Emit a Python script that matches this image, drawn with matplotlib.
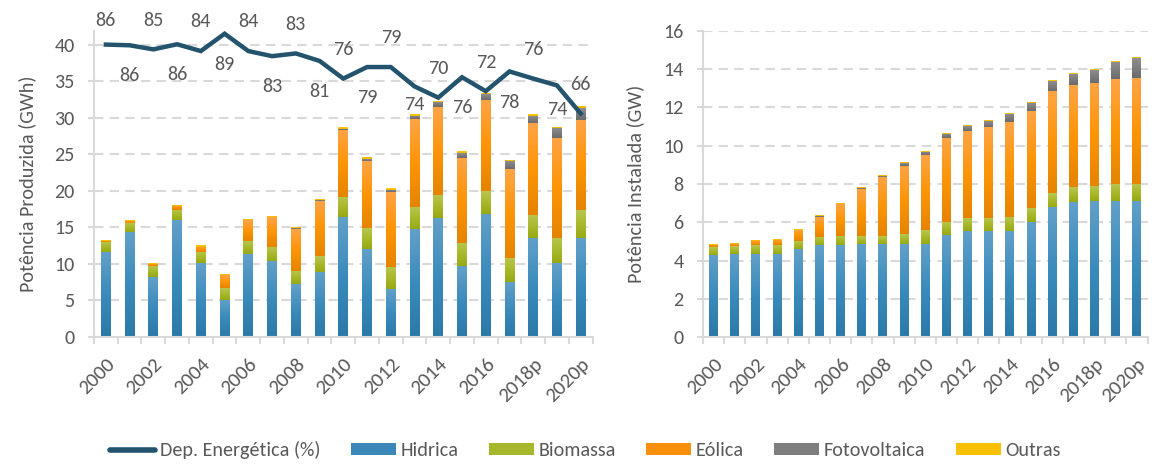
import numpy as np
import matplotlib
matplotlib.use("Agg")
import matplotlib.pyplot as plt
from matplotlib import font_manager
from matplotlib.colors import LinearSegmentedColormap
from matplotlib.lines import Line2D
from matplotlib.patches import Patch

_available = {f.name for f in font_manager.fontManager.ttflist}
if 'Carlito' in _available:
    FONT, FS, FS_X = 'Carlito', 14.5, 15
else:
    FONT, FS, FS_X = 'Lato', 12.5, 13
plt.rcParams['font.family'] = [FONT, 'DejaVu Sans']

# ---------------- data ----------------
years = ['2000', '2001', '2002', '2003', '2004', '2005', '2006', '2007', '2008', '2009',
         '2010', '2011', '2012', '2013', '2014', '2015', '2016', '2017', '2018p', '2019p', '2020p']

dep_energetica = [86.0, 85.8, 84.6, 86.1, 84.1, 89.2, 84.1, 82.6, 83.4, 81.2,
                  76.0, 79.4, 79.4, 73.7, 70.4, 76.4, 72.3, 78.1, 76.0, 74.0, 65.7]

# Produced energy (GWh)
prod_hidrica = [11.6, 14.4, 8.2, 16.0, 10.1, 5.1, 11.35, 10.35, 7.25, 8.9,
                16.35, 12.05, 6.55, 14.75, 16.3, 9.7, 16.85, 7.5, 13.55, 10.1, 13.55]
prod_biomassa = [1.37, 1.24, 1.51, 1.37, 1.55, 1.64, 1.78, 1.96, 1.78, 2.18,
                 2.78, 2.87, 3.01, 3.01, 3.15, 3.15, 3.10, 3.29, 3.15, 3.42, 3.79]
prod_eolica = [0.18, 0.22, 0.28, 0.55, 0.73, 1.74, 2.87, 4.06, 5.74, 7.57,
               9.21, 9.12, 10.26, 12.0, 12.03, 11.63, 12.49, 12.17, 12.58, 13.72, 12.36]
prod_fotovoltaica = [0, 0, 0, 0, 0, 0, 0, 0, 0.13, 0.09,
                     0.14, 0.27, 0.31, 0.54, 0.69, 0.64, 0.82, 1.05, 1.01, 1.37, 1.59]
prod_outras = [0.09, 0.14, 0.09, 0.14, 0.18, 0.13, 0.14, 0.13, 0.10, 0.09,
               0.18, 0.28, 0.19, 0.18, 0.13, 0.27, 0.14, 0.14, 0.18, 0.14, 0.28]

# Installed capacity (GW)
inst_hidrica = [4.30, 4.37, 4.37, 4.37, 4.61, 4.82, 4.82, 4.89, 4.89, 4.89,
                4.89, 5.34, 5.55, 5.55, 5.55, 6.03, 6.82, 7.08, 7.11, 7.11, 7.11]
inst_biomassa = [0.41, 0.41, 0.46, 0.46, 0.43, 0.43, 0.48, 0.41, 0.41, 0.52,
                 0.73, 0.69, 0.69, 0.69, 0.75, 0.74, 0.73, 0.78, 0.80, 0.91, 0.91]
inst_eolica = [0.11, 0.11, 0.21, 0.27, 0.58, 1.01, 1.67, 2.44, 3.08, 3.55,
               3.91, 4.39, 4.54, 4.75, 4.95, 5.06, 5.32, 5.32, 5.38, 5.48, 5.53]
inst_fotovoltaica = [0, 0, 0, 0, 0, 0.07, 0, 0.07, 0.05, 0.14,
                     0.16, 0.21, 0.26, 0.31, 0.42, 0.41, 0.52, 0.58, 0.68, 0.88, 1.04]
inst_outras = [0.05, 0.03, 0.06, 0.05, 0.05, 0.05, 0.06, 0.05, 0.06, 0.07,
               0.05, 0.05, 0.06, 0.06, 0.05, 0.06, 0.05, 0.05, 0.05, 0.05, 0.05]

series_names = ['Hidrica', 'Biomassa', 'Eólica', 'Fotovoltaica', 'Outras']
line_name = 'Dep. Energética (%)'
ylabel_left = 'Potência Produzida (GWh)'
ylabel_right = 'Potência Instalada (GW)'

# ---------------- style ----------------
grad_colors = {  # bottom -> top
    'Hidrica': ['#2b79a8', '#3a8bbb', '#62a0c9'],
    'Biomassa': ['#97a912', '#a8b92c', '#b8c651'],
    'Eólica': ['#e68400', '#fd9506', '#ffa446'],
    'Fotovoltaica': ['#6b6b6b', '#7d7d7d', '#8f8f8f'],
    'Outras': ['#efb300', '#fbbf00', '#ffcb1f'],
}
solid_colors = {'Hidrica': '#3a87b8', 'Biomassa': '#a6b72c', 'Eólica': '#f98f0a',
                'Fotovoltaica': '#7e7e7e', 'Outras': '#f8c000'}
line_color = '#23536d'
text_color = '#595959'
grid_color = '#d9d9d9'
BAR_W = 0.42

W, H = 1171, 467
fig = plt.figure(figsize=(W / 100, H / 100), dpi=100)
ax1 = fig.add_axes([94 / W, 1 - 337 / H, (592.6 - 94) / W, (337 - 31) / H])
ax3 = fig.add_axes([703 / W, 1 - 337.3 / H, (1147.5 - 703) / W, (337.3 - 30.7) / H])

x = np.arange(len(years))


def grad_bars(ax, stacks):
    bottom = np.zeros(len(x))
    for name, vals in zip(series_names, stacks):
        vals = np.asarray(vals, dtype=float)
        bars = ax.bar(x, vals, BAR_W, bottom=bottom, color=solid_colors[name],
                      linewidth=0, zorder=2)
        cmap = LinearSegmentedColormap.from_list(name, grad_colors[name])
        g = np.linspace(1, 0, 64).reshape(-1, 1)
        for rect, v in zip(bars, vals):
            if v <= 0:
                continue
            x0, y0 = rect.get_x(), rect.get_y()
            im = ax.imshow(g, extent=(x0, x0 + rect.get_width(), y0, y0 + rect.get_height()),
                           aspect='auto', cmap=cmap, vmin=0, vmax=1,
                           interpolation='bilinear', zorder=2.1)
            im.set_clip_path(rect)
        bottom += vals


def style_axes(ax, ymax, ystep):
    ax.set_xlim(-0.5, len(x) - 0.5)
    ax.set_ylim(0, ymax)
    ax.set_yticks(np.arange(0, ymax + 0.001, ystep))
    for yv in np.arange(ystep, ymax + 0.001, ystep):
        ax.axhline(yv, color=grid_color, lw=1.5, ls=(0, (4.5, 3)), zorder=1)
    for s in ['top', 'right']:
        ax.spines[s].set_visible(False)
    for s in ['left', 'bottom']:
        ax.spines[s].set_color(grid_color)
        ax.spines[s].set_linewidth(1.5)
    ax.tick_params(axis='y', colors=grid_color, labelcolor=text_color, labelsize=FS,
                   length=4, width=1.5, pad=10)
    ax.set_xticks(x[::2])
    ax.set_xticklabels(years[::2], rotation=45, ha='right', va='top',
                       rotation_mode='anchor', fontsize=FS_X, color=text_color)
    ax.tick_params(axis='x', which='major', length=0, pad=13)
    ax.set_xticks(np.arange(-0.5, len(x), 1), minor=True)
    ax.tick_params(axis='x', which='minor', length=5, width=1.5, color=grid_color)
    ax.set_facecolor('none')


# ---- left chart ----
grad_bars(ax1, [prod_hidrica, prod_biomassa, prod_eolica, prod_fotovoltaica, prod_outras])
style_axes(ax1, 41.86, 5)
ax1.set_yticks(np.arange(0, 41, 5))
ax1.set_ylabel(ylabel_left, fontsize=FS, color=text_color, labelpad=13)

ax2 = ax1.twinx()
ax2.set_ylim(0, 90)
ax2.axis('off')
ax2.plot(x, dep_energetica, color=line_color, lw=3.2, solid_joinstyle='miter', zorder=5)
special_offsets = {0: 17, 13: -13, 19: -17}
for i, v in enumerate(dep_energetica):
    off = 21 if i % 2 == 0 else -22
    off = special_offsets.get(i, off)
    ax2.annotate(f'{v:.0f}', (x[i], v), xytext=(0, off), textcoords='offset points',
                 ha='center', va='center', fontsize=FS, color=text_color,
                 annotation_clip=False)

# ---- right chart ----
grad_bars(ax3, [inst_hidrica, inst_biomassa, inst_eolica, inst_fotovoltaica, inst_outras])
style_axes(ax3, 16, 2)
ax3.set_ylabel(ylabel_right, fontsize=FS, color=text_color, labelpad=14)

# ---- legend ----
handles = [Line2D([0], [0], color=line_color, lw=4, solid_capstyle='round')]
handles += [Patch(facecolor=solid_colors[n], edgecolor='none') for n in series_names]
labels = [line_name] + series_names
fs_px = FS * 100 / 72
leg = fig.legend(handles, labels, loc='center', bbox_to_anchor=(0.5, 1 - 450 / H),
                 ncol=6, frameon=False, fontsize=FS, handlelength=45 / fs_px,
                 handleheight=0.5, handletextpad=5 / fs_px, columnspacing=30 / fs_px)
for t in leg.get_texts():
    t.set_color(text_color)

fig.savefig('out.png', dpi=100)
